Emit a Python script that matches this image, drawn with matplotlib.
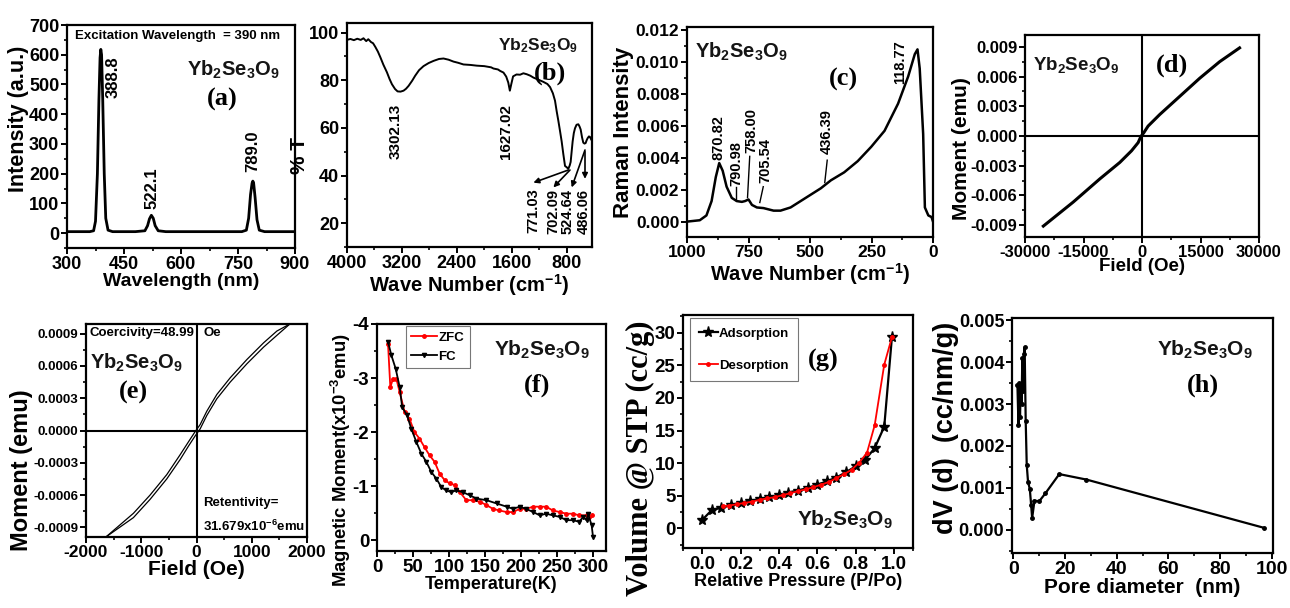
import matplotlib
matplotlib.use("Agg")
import matplotlib.pyplot as plt
from matplotlib import font_manager
from matplotlib.ticker import MultipleLocator, AutoMinorLocator, FormatStrFormatter

names = {f.name for f in font_manager.fontManager.ttflist}
NARROW = "Liberation Sans Narrow" if "Liberation Sans Narrow" in names else "Liberation Sans"
SANS = "Liberation Sans"
SERIF = "Liberation Serif"

plt.rcParams["font.family"] = [SANS, "DejaVu Sans"]
plt.rcParams["font.weight"] = "bold"
plt.rcParams["mathtext.fontset"] = "custom"
plt.rcParams["mathtext.rm"] = SANS + ":bold"
plt.rcParams["mathtext.bf"] = SANS + ":bold"
plt.rcParams["mathtext.it"] = SANS + ":bold"
plt.rcParams["axes.linewidth"] = 1.6
plt.rcParams["axes.unicode_minus"] = False

FORMULA = r"Yb$_\mathbf{2}$Se$_\mathbf{3}$O$_\mathbf{9}$"

# ---------------- data ----------------
# (a) PL spectrum
pl_wl = [300, 360, 370, 375, 380, 384, 387, 389, 391, 394, 398, 402, 408, 420, 480, 505, 512, 517, 522,
         527, 532, 540, 560, 700, 760, 772, 778, 783, 787, 789, 791, 795, 800, 806, 820, 900]
pl_int = [5, 5, 8, 40, 200, 450, 590, 618, 600, 450, 200, 50, 10, 5, 5, 8, 25, 48, 60,
          50, 25, 8, 5, 5, 5, 10, 50, 130, 168, 175, 170, 120, 45, 10, 5, 5]
pl_peaks = ["388.8", "522.1", "789.0"]
pl_peak_x = [421, 524, 789]
pl_peak_y = [455, 80, 205]

# (b) FTIR
ir_wn = [3990, 3950, 3900, 3850, 3800, 3760, 3720, 3690, 3650, 3620, 3588, 3550, 3515, 3470, 3418, 3380,
         3345, 3300, 3263, 3220, 3176, 3140, 3103, 3050, 3006, 2950, 2885, 2810, 2739, 2660, 2594, 2520,
         2448, 2380, 2303, 2200, 2109, 2000, 1900, 1866, 1800, 1769, 1720, 1680, 1650, 1627, 1605, 1580,
         1530, 1478, 1430, 1381, 1330, 1284, 1210, 1139, 1080, 1041, 1000, 969, 945, 920, 895, 872,
         848, 823, 800, 775, 755, 741, 725, 712, 695, 678, 655, 629, 612, 595, 575, 557, 540, 523, 508,
         493, 475, 460, 445, 435]
ir_t = [97.0, 97.3, 96.8, 97.4, 96.9, 97.6, 96.4, 97.2, 96.0, 95.5, 94.0, 92.0, 89.7, 86.5, 83.3, 80.5,
        78.3, 76.3, 75.3, 75.2, 75.6, 76.4, 77.6, 79.8, 81.9, 84.2, 85.9, 87.2, 88.1, 88.9, 89.1, 88.6,
        87.8, 87.3, 86.6, 86.4, 86.1, 85.9, 85.4, 84.9, 84.5, 83.9, 83.2, 81.5, 79.0, 75.6, 78.5, 81.6,
        82.4, 82.3, 82.9, 82.5, 81.9, 81.1, 80.2, 79.3, 78.4, 77.1, 74.5, 71.4, 67.0, 62.9, 58.5, 54.3,
        49.0, 44.0, 43.5, 42.8, 44.2, 45.7, 50.5, 54.3, 57.8, 59.8, 61.3, 61.5, 60.6, 59.3, 56.0, 53.8,
        53.4, 53.6, 54.8, 55.7, 56.4, 56.2, 55.3, 54.8]
ir_labels_main = ["3302.13", "1627.02"]
ir_main_x = [3285, 1690]
ir_main_top = [70, 70]
ir_labels_low = ["771.03", "702.09", "524.64", "486.06"]
ir_low_x = [1284, 993, 790, 556]
ir_arrow_from = [(775, 42.3), (751, 42.3), (532, 50.7), (532, 50.0)]
ir_arrow_to = [(1284, 37.0), (993, 35.0), (726, 35.0), (532, 38.6)]

# (c) Raman
ra_wn = [996, 948, 921, 900, 883, 869, 855, 839, 818, 798, 777, 764, 750, 736, 716, 689, 648, 620, 579,
         538, 497, 456, 415, 361, 306, 251, 197, 142, 101, 74, 63, 54, 40, 33, 19, 6, 0]
ra_int = [0.00002, 0.0001, 0.0004, 0.0013, 0.0028, 0.00368, 0.0032, 0.0022, 0.0015, 0.0013, 0.00125,
          0.0013, 0.0014, 0.00106, 0.0009, 0.00086, 0.0007, 0.0007, 0.0009, 0.0013, 0.0017, 0.0021,
          0.0026, 0.0031, 0.0038, 0.0047, 0.0057, 0.0074, 0.0091, 0.0105, 0.0108, 0.0096, 0.0055,
          0.0009, 0.0004, 0.0003, 0.00002]
ra_labels = ["870.82", "790.98", "758.00", "705.54", "436.39", "118.77"]
ra_label_x = [870, 798, 740, 682, 430, 135]
ra_label_bottom = [0.0039, 0.00225, 0.00434, 0.00246, 0.00424, 0.0086]
ra_tick_from = [None, (800, 0.0022), (745, 0.0041), (690, 0.0022), (430, 0.00386), None]
ra_tick_to = [None, (800, 0.00136), (754, 0.00152), (704, 0.00121), (440, 0.00246), None]

# (d) M-H wide field
mh_field = [-25300, -17630, -10810, -5690, -2700, -990, -310, 455, 1560, 4550, 9670, 14790, 19900, 25020]
mh_moment = [-0.0091, -0.00667, -0.00433, -0.00267, -0.0015, -0.00067, -0.00007, 0.00033, 0.0010,
             0.00217, 0.0040, 0.00583, 0.0075, 0.0089]

# (e) M-H low field hysteresis (two branches)
hy_field = [-1640, -1142, -840, -538, -296, -145, -24, 66, 187, 368, 610, 912, 1214, 1456, 1690]
hy_up = [-0.00099, -0.00081, -0.00064, -0.00045, -0.00027, -0.000145, -0.00005, 0.000015, 0.00014,
         0.000295, 0.00045, 0.00062, 0.000775, 0.000885, 0.00099]
hy_down = [-0.00099, -0.00077, -0.00060, -0.00041, -0.000225, -0.000105, -0.00001, 0.000055, 0.00018,
           0.000335, 0.00049, 0.00066, 0.000815, 0.000925, 0.00099]
hy_coercivity = "Coercivity=48.99"
hy_retentivity = r"31.679x10$^\mathbf{-6}$emu"

# (f) ZFC / FC
fc_T = [15.3, 20, 26, 31.5, 35, 41.7, 47.7, 54.6, 61.6, 68.5, 75.5, 82.4, 89.4, 96.3, 103, 110, 119, 129,
        138, 152, 166, 180, 189, 198, 207, 217, 226, 235, 244, 254, 263, 272, 281, 286, 291, 293, 298, 300]
fc_M = [-3.67, -3.42, -3.17, -2.83, -2.46, -2.31, -2.06, -1.82, -1.60, -1.45, -1.26, -1.14, -0.98, -0.92,
        -0.89, -0.92, -0.89, -0.83, -0.77, -0.74, -0.68, -0.62, -0.58, -0.62, -0.58, -0.52, -0.46, -0.49,
        -0.46, -0.43, -0.37, -0.37, -0.34, -0.43, -0.37, -0.49, -0.28, -0.06]
zfc_T = [15.3, 18.5, 22, 27, 31.5, 38.4, 45, 52, 59, 66, 73, 80, 87, 94, 101, 108, 115, 124, 133, 143, 152,
         161, 170, 180, 189, 198, 207, 217, 226, 235, 244, 254, 263, 272, 281, 291, 294, 298]
zfc_M = [-3.63, -2.83, -2.98, -2.98, -2.74, -2.37, -2.25, -2.00, -1.88, -1.72, -1.57, -1.45, -1.23, -1.11,
         -1.05, -1.02, -0.89, -0.74, -0.74, -0.71, -0.65, -0.58, -0.55, -0.52, -0.52, -0.58, -0.58, -0.62,
         -0.62, -0.62, -0.55, -0.52, -0.49, -0.49, -0.46, -0.46, -0.43, -0.46]

# (g) N2 isotherm
ads_p = [0.0, 0.05, 0.1, 0.15, 0.2, 0.25, 0.3, 0.35, 0.4, 0.45, 0.5, 0.55, 0.6, 0.65, 0.7, 0.75, 0.8,
         0.85, 0.9, 0.95, 0.99]
ads_v = [1.3, 2.8, 3.2, 3.6, 3.9, 4.2, 4.5, 4.8, 5.1, 5.5, 5.8, 6.2, 6.7, 7.2, 7.8, 8.6, 9.5, 10.5,
         12.3, 15.6, 29.3]
des_p = [0.99, 0.95, 0.90, 0.86, 0.82, 0.78, 0.74, 0.70, 0.66, 0.62, 0.58, 0.54, 0.50, 0.46, 0.42, 0.38,
         0.34, 0.30, 0.26, 0.22, 0.18, 0.14, 0.11]
des_v = [29.3, 25.1, 15.8, 11.6, 10.1, 9.0, 8.3, 7.7, 7.1, 6.7, 6.3, 6.0, 5.7, 5.4, 5.1, 4.8, 4.6, 4.4,
         4.1, 3.9, 3.7, 3.5, 3.4]

# (h) pore size distribution
pore_d = [1.6, 2.0, 2.3, 2.6, 2.9, 3.2, 3.5, 3.8, 4.1, 4.4, 4.8, 5.2, 5.7, 6.4, 6.9, 7.3, 8.2, 10.0, 12.4,
          17.8, 28.3, 97.0]
pore_dv = [0.00345, 0.0025, 0.0035, 0.0027, 0.0034, 0.0030, 0.0041, 0.0033, 0.0042, 0.00435, 0.0026,
           0.00155, 0.00115, 0.00097, 0.0006, 0.00028, 0.0007, 0.00068, 0.00087, 0.00133, 0.0012, 0.00005]

# ---------------- figure ----------------
W, H = 1290, 608
fig = plt.figure(figsize=(W / 100, H / 100), dpi=100)
TAG = 19


def ax_at(l, t, r, b):
    return fig.add_axes([l / W, (H - b) / H, (r - l) / W, (b - t) / H])


def style(ax, tick_font, tick_size, xmaj, ymaj, xminor=2, yminor=2, ysize=None):
    ax.xaxis.set_major_locator(MultipleLocator(xmaj))
    ax.yaxis.set_major_locator(MultipleLocator(ymaj))
    ax.xaxis.set_minor_locator(AutoMinorLocator(xminor))
    ax.yaxis.set_minor_locator(AutoMinorLocator(yminor))
    ax.tick_params(which="major", direction="out", length=4, width=1.4, pad=1.5)
    ax.tick_params(which="minor", direction="out", length=2.5, width=1.2)
    ax.tick_params(axis="x", labelsize=tick_size)
    ax.tick_params(axis="y", labelsize=ysize if ysize else tick_size)
    for lab_ in ax.get_xticklabels() + ax.get_yticklabels():
        lab_.set_fontfamily(tick_font)
        lab_.set_fontweight("bold")


def lab(ax, xl, yl, fam, xs, ys, xpad=0, ypad=1, ycenter=None):
    ax.set_xlabel(xl, fontfamily=fam, fontsize=xs, fontweight="bold", labelpad=xpad)
    ax.set_ylabel(yl, fontfamily=fam, fontsize=ys, fontweight="bold", labelpad=ypad)
    if ycenter is not None:
        ax.yaxis.label.set_y(ycenter)


def serif_tag(ax, s, fx, fy, size=TAG):
    ax.text(fx, fy, s, transform=ax.transAxes, fontfamily=SERIF, fontweight="bold", fontsize=size,
            ha="center", va="center")


def formula(ax, fx, fy, size=11, fam=SANS):
    ax.text(fx, fy, FORMULA, transform=ax.transAxes, fontfamily=fam, fontweight="bold", fontsize=size,
            ha="center", va="center", color="#151515")


# (a)
ax = ax_at(67, 25, 295, 248)
ax.plot(pl_wl, pl_int, color="black", lw=2.0)
ax.set_xlim(300, 900)
ax.set_ylim(-50, 700)
style(ax, NARROW, 13, 150, 100)
lab(ax, "Wavelength (nm)", "Intensity (a.u.)", NARROW, 14, 15.5, 0, 0, 0.578)
for s, x, y in zip(pl_peaks, pl_peak_x, pl_peak_y):
    ax.text(x, y, s, rotation=90, ha="center", va="bottom", fontfamily=NARROW, fontsize=12, fontweight="bold")
ax.text(0.487, 0.952, "Excitation Wavelength  = 390 nm", transform=ax.transAxes, ha="center", va="center",
        fontfamily=NARROW, fontsize=9.5, fontweight="bold")
formula(ax, 0.73, 0.80, 14.5)
serif_tag(ax, "(a)", 0.68, 0.664)

# (b)
ax = ax_at(347, 23, 592, 247)
ax.plot(ir_wn, ir_t, color="black", lw=1.4)
ax.set_xlim(4000, 430)
ax.set_ylim(10, 104)
style(ax, NARROW, 13, 800, 20)
lab(ax, r"Wave Number (cm$^\mathbf{-1}$)", "% T", SANS, 14.5, 15, 0, 0, 0.41)
for s, x, t in zip(ir_labels_main, ir_main_x, ir_main_top):
    ax.text(x, t, s, rotation=90, ha="center", va="top", fontfamily=NARROW, fontsize=11, fontweight="bold")
for s, x in zip(ir_labels_low, ir_low_x):
    ax.text(x, 34.5, s, rotation=90, ha="center", va="top", fontfamily=NARROW, fontsize=10.5, fontweight="bold")
for p0, p1 in zip(ir_arrow_from, ir_arrow_to):
    ax.annotate("", xy=p1, xytext=p0, arrowprops=dict(arrowstyle="-|>", color="black", lw=1.2,
                                                      mutation_scale=8, shrinkA=0, shrinkB=0))
formula(ax, 0.78, 0.90, 12.5)
serif_tag(ax, "(b)", 0.83, 0.777)

# (c)
ax = ax_at(687, 27, 933, 237)
ax.plot(ra_wn, ra_int, color="black", lw=1.8)
ax.set_xlim(1000, 0)
ax.set_ylim(-0.00095, 0.0122)
style(ax, SANS, 12.5, 250, 0.002)
ax.yaxis.set_major_formatter(FormatStrFormatter("%.3f"))
lab(ax, r"Wave Number (cm$^\mathbf{-1}$)", "Raman Intensity", SANS, 14.5, 16, 1, 1)
for s, x, yb, t0, t1 in zip(ra_labels, ra_label_x, ra_label_bottom, ra_tick_from, ra_tick_to):
    ax.text(x, yb, s, rotation=90, ha="center", va="bottom", fontfamily=SANS, fontsize=10.5, fontweight="bold")
    if t0 is not None:
        ax.plot([t0[0], t1[0]], [t0[1], t1[1]], color="black", lw=1.0)
formula(ax, 0.22, 0.88, 14.5)
serif_tag(ax, "(c)", 0.634, 0.748)

# (d)
ax = ax_at(1025, 35, 1259, 237)
ax.plot(mh_field, mh_moment, color="black", lw=2.2)
ax.axhline(0, color="black", lw=1.5)
ax.axvline(0, color="black", lw=1.5)
ax.set_xlim(-30000, 30000)
ax.set_ylim(-0.0102, 0.0102)
style(ax, SANS, 12, 15000, 0.003)
ax.yaxis.set_major_formatter(FormatStrFormatter("%.3f"))
lab(ax, "Field (Oe)", "Moment (emu)", SANS, 13.5, 15, -1, 0, 0.44)
formula(ax, 0.218, 0.851, 13.5)
serif_tag(ax, "(d)", 0.628, 0.851)

# (e)
ax = ax_at(86, 324, 307, 537)
ax.plot(hy_field, hy_up, color="black", lw=0.9)
ax.plot(hy_field, hy_down, color="black", lw=0.9)
ax.axhline(0, color="black", lw=1.5)
ax.axvline(0, color="black", lw=1.5)
ax.set_xlim(-2000, 2000)
ax.set_ylim(-0.00099, 0.00099)
style(ax, SANS, 12.5, 1000, 0.0003, ysize=9.5)
for t in ax.get_yticklabels():
    t.set_fontfamily(NARROW)
ax.yaxis.set_major_formatter(FormatStrFormatter("%.4f"))
lab(ax, "Field (Oe)", "Moment (emu)", SANS, 15, 17, 0, 0, 0.315)
ax.text(0.252, 0.958, hy_coercivity, transform=ax.transAxes, ha="center", va="center", fontfamily=NARROW,
        fontsize=9.5, fontweight="bold")
ax.text(0.53, 0.958, "Oe", transform=ax.transAxes, ha="left", va="center", fontfamily=NARROW,
        fontsize=9.5, fontweight="bold")
ax.text(0.53, 0.16, "Retentivity=", transform=ax.transAxes, ha="left", va="center", fontfamily=NARROW,
        fontsize=9.5, fontweight="bold")
ax.text(0.53, 0.05, hy_retentivity, transform=ax.transAxes, ha="left", va="center", fontfamily=NARROW,
        fontsize=9.5, fontweight="bold")
formula(ax, 0.228, 0.817, 14.5, NARROW)
serif_tag(ax, "(e)", 0.213, 0.68)

# (f)
ax = ax_at(377, 324, 606, 551)
ax.plot(zfc_T, zfc_M, color="red", lw=1.3, marker="o", ms=2.5, label="ZFC")
ax.plot(fc_T, fc_M, color="black", lw=1.3, marker="v", ms=3, label="FC")
ax.set_xlim(0, 318)
ax.set_ylim(0.2, -4.0)
style(ax, SANS, 13.5, 50, 1)
lab(ax, "Temperature(K)", r"Magnetic Moment(x10$^\mathbf{-3}$emu)", SANS, 13, 13.3, 0, 0, 0.40)
leg = ax.legend(loc="upper left", bbox_to_anchor=(0.125, 0.99), frameon=True, fancybox=False,
                prop=dict(family=SANS, weight="bold", size=9.5), handlelength=2.0, borderpad=0.4,
                labelspacing=0.5, handletextpad=0.1, borderaxespad=0)
leg.get_frame().set_edgecolor("#555555")
leg.get_frame().set_linewidth(0.8)
formula(ax, 0.72, 0.885, 15)
serif_tag(ax, "(f)", 0.70, 0.73)

# (g)
ax = ax_at(683, 315, 913, 548)
ax.plot(ads_p, ads_v, color="black", lw=1.6, marker="*", ms=8, label="Adsorption")
ax.plot(des_p, des_v, color="red", lw=1.3, marker="o", ms=2.5, label="Desorption")
ax.set_xlim(-0.1, 1.1)
ax.set_ylim(-3, 32.7)
style(ax, NARROW, 13.5, 0.2, 5)
ax.xaxis.set_major_formatter(FormatStrFormatter("%.1f"))
ax.set_xlabel("Relative Pressure (P/Po)", fontfamily=NARROW, fontsize=13, fontweight="bold", labelpad=0)
ax.set_ylabel("Volume @ STP (cc/g)", fontfamily=SERIF, fontsize=22, fontweight="bold", labelpad=0)
ax.yaxis.label.set_y(0.386)
leg = ax.legend(loc="upper left", bbox_to_anchor=(0.03, 0.985), frameon=True, fancybox=False,
                prop=dict(family=NARROW, weight="bold", size=9.5), handlelength=1.4, borderpad=0.7,
                labelspacing=1.5, handletextpad=0.1, borderaxespad=0)
leg.get_frame().set_edgecolor("#555555")
leg.get_frame().set_linewidth(0.8)
formula(ax, 0.704, 0.12, 15)
serif_tag(ax, "(g)", 0.609, 0.807)

# (h)
ax = ax_at(1012, 318, 1273, 553)
ax.plot(pore_d, pore_dv, color="black", lw=1.6, marker="o", ms=2.5)
ax.set_xlim(-0.5, 100.5)
ax.set_ylim(-0.00055, 0.00505)
style(ax, SANS, 14, 20, 0.001, ysize=13)
ax.yaxis.set_major_formatter(FormatStrFormatter("%.3f"))
lab(ax, "Pore diameter  (nm)", "dV (d)  (cc/nm/g)", SANS, 15, 19.5, 0, 0, 0.532)
formula(ax, 0.74, 0.865, 15)
serif_tag(ax, "(h)", 0.73, 0.715)

fig.savefig("out.png", dpi=100, facecolor="white")
